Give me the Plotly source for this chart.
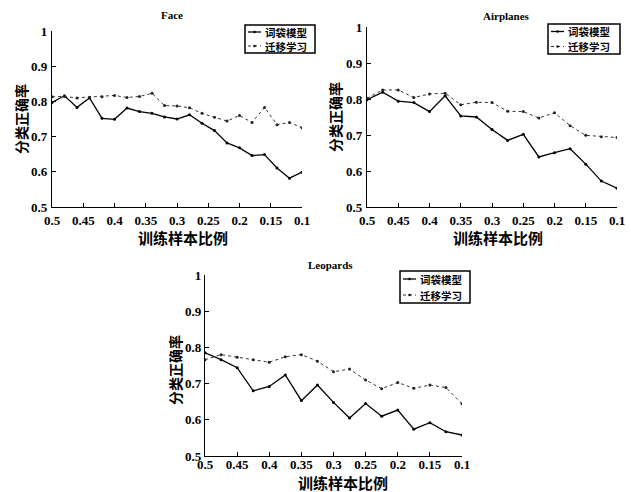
import plotly.graph_objects as go

# ---- data ----
face_x = [0.50, 0.48, 0.46, 0.44, 0.42, 0.40, 0.38, 0.36, 0.34, 0.32, 0.30,
          0.28, 0.26, 0.24, 0.22, 0.20, 0.18, 0.16, 0.14, 0.12, 0.10]
face_bow = [0.797, 0.816, 0.783, 0.810, 0.752, 0.749, 0.781, 0.771, 0.766, 0.756, 0.750,
            0.762, 0.738, 0.717, 0.682, 0.668, 0.646, 0.649, 0.611, 0.582, 0.599]
face_tl = [0.813, 0.814, 0.810, 0.812, 0.813, 0.817, 0.811, 0.814, 0.823, 0.788, 0.787,
           0.782, 0.766, 0.755, 0.744, 0.760, 0.740, 0.783, 0.734, 0.740, 0.725]

air_x = [0.5, 0.475, 0.45, 0.425, 0.4, 0.375, 0.35, 0.325, 0.3, 0.275, 0.25,
         0.225, 0.2, 0.175, 0.15, 0.125, 0.1]
air_bow = [0.798, 0.819, 0.794, 0.790, 0.765, 0.809, 0.753, 0.750, 0.715, 0.685, 0.702,
           0.639, 0.651, 0.662, 0.619, 0.572, 0.552]
air_tl = [0.802, 0.825, 0.825, 0.804, 0.814, 0.816, 0.784, 0.791, 0.790, 0.766, 0.765,
          0.747, 0.762, 0.726, 0.699, 0.695, 0.693]

leo_x = [0.5, 0.475, 0.45, 0.425, 0.4, 0.375, 0.35, 0.325, 0.3, 0.275, 0.25,
         0.225, 0.2, 0.175, 0.15, 0.125, 0.1]
leo_bow = [0.785, 0.766, 0.744, 0.680, 0.692, 0.724, 0.653, 0.696, 0.648, 0.605, 0.645,
           0.610, 0.627, 0.574, 0.592, 0.567, 0.558]
leo_tl = [0.766, 0.780, 0.773, 0.766, 0.759, 0.774, 0.780, 0.762, 0.733, 0.740, 0.710,
          0.686, 0.703, 0.687, 0.696, 0.689, 0.644]

x_ticks = [0.5, 0.45, 0.4, 0.35, 0.3, 0.25, 0.2, 0.15, 0.1]
x_ticktext = ["0.5", "0.45", "0.4", "0.35", "0.3", "0.25", "0.2", "0.15", "0.1"]
y_ticks = [0.5, 0.6, 0.7, 0.8, 0.9, 1.0]
y_ticktext = ["0.5", "0.6", "0.7", "0.8", "0.9", "1"]

titles = ["Face", "Airplanes", "Leopards"]
name_bow = "词袋模型"
name_tl = "迁移学习"
x_title = "训练样本比例"
y_title = "分类正确率"

W, H = 631, 492
SERIF = "Liberation Serif, DejaVu Serif, serif"
CJK = "Noto Sans CJK SC, sans-serif"

# panel geometry in pixels: (left, right, top, bottom)
panels = [
    (52, 302, 31, 207),
    (367, 617, 27, 207),
    (205, 462, 275, 456),
]
x_standoff = [1, 1, -4]
y_standoff = [1, 1, 0]
# legend boxes in pixels: (left, right, top, bottom)
legend_boxes = [(245, 315, 25, 53), (548, 620, 24, 54), (400, 470, 271, 303)]
title_pos = [(172, 15), (506, 16), (330, 265)]
xtitle_pos = [(183, 237), (498, 237), (343, 482)]
ytitle_pos = [(21, 119), (335, 117), (175, 370)]

datasets = [(face_x, face_bow, face_tl), (air_x, air_bow, air_tl), (leo_x, leo_bow, leo_tl)]


def px(x):
    return x / W


def py(y):
    return 1 - y / H


BOW_LINE = dict(color="black", width=1.3)
TL_LINE = dict(color="#333333", width=1, dash="dot")
TICKFONT = dict(family=SERIF, size=13, color="black", weight="bold")

fig = go.Figure()
annotations = []
shapes = []
for i, ((xs, bow, tl), (l, r, t, b)) in enumerate(zip(datasets, panels)):
    suffix = "" if i == 0 else str(i + 1)
    fig.add_trace(go.Scatter(
        x=xs, y=bow, name=name_bow, mode="lines+markers", line=BOW_LINE,
        marker=dict(symbol="circle", size=3, color="black"),
        xaxis="x" + suffix, yaxis="y" + suffix, showlegend=False))
    fig.add_trace(go.Scatter(
        x=xs, y=tl, name=name_tl, mode="lines+markers", line=TL_LINE,
        marker=dict(symbol="circle", size=3, color="#222222"),
        xaxis="x" + suffix, yaxis="y" + suffix, showlegend=False))
    ax = dict(
        domain=[px(l), px(r)], range=[0.5, 0.1], tickvals=x_ticks, ticktext=x_ticktext,
        showline=True, linecolor="black", linewidth=1.2, ticks="inside", ticklen=4,
        tickcolor="black", showgrid=False, zeroline=False, ticklabelstandoff=x_standoff[i],
        automargin=False, tickfont=TICKFONT, anchor="y" + suffix)
    ay = dict(
        domain=[py(b), py(t)], range=[0.5, 1.0], tickvals=y_ticks, ticktext=y_ticktext,
        showline=True, linecolor="black", linewidth=1.2, ticks="inside", ticklen=4,
        tickcolor="black", showgrid=False, zeroline=False, ticklabelstandoff=y_standoff[i],
        automargin=False, tickfont=TICKFONT, anchor="x" + suffix)
    fig.update_layout(**{"xaxis" + suffix: ax, "yaxis" + suffix: ay})

    # compact boxed legend (MATLAB style)
    bl, br, bt, bb = legend_boxes[i]
    shapes.append(dict(type="rect", xref="paper", yref="paper",
                       x0=px(bl), x1=px(br), y0=py(bb), y1=py(bt),
                       line=dict(color="black", width=1.5), fillcolor="white", layer="above"))
    row_h = (bb - bt) / 2.0
    for k, (nm, ln) in enumerate([(name_bow, BOW_LINE), (name_tl, TL_LINE)]):
        yc = bt + row_h * (k + 0.5)
        shapes.append(dict(type="line", xref="paper", yref="paper",
                           x0=px(bl + 3), x1=px(bl + 16), y0=py(yc), y1=py(yc),
                           line=ln, layer="above"))
        shapes.append(dict(type="circle", xref="paper", yref="paper",
                           x0=px(bl + 8.5), x1=px(bl + 10.5), y0=py(yc + 1), y1=py(yc - 1),
                           line=dict(color="black", width=0.5), fillcolor="black", layer="above"))
        annotations.append(dict(text="<b>" + nm + "</b>", x=px(bl + 18), y=py(yc),
                                xref="paper", yref="paper", xanchor="left", yanchor="middle",
                                showarrow=False,
                                font=dict(family=CJK, size=10.5, color="black")))

    tx, ty = title_pos[i]
    annotations.append(dict(text="<b>" + titles[i] + "</b>", x=px(tx), y=py(ty),
                            xref="paper", yref="paper", showarrow=False,
                            xanchor="center", yanchor="middle",
                            font=dict(family=SERIF, size=11, color="black")))
    xx, xy = xtitle_pos[i]
    annotations.append(dict(text="<b>" + x_title + "</b>", x=px(xx), y=py(xy),
                            xref="paper", yref="paper", showarrow=False,
                            xanchor="center", yanchor="middle",
                            font=dict(family=CJK, size=15, color="black")))
    yx, yy = ytitle_pos[i]
    annotations.append(dict(text="<b>" + y_title + "</b>", x=px(yx), y=py(yy),
                            xref="paper", yref="paper", showarrow=False, textangle=-90,
                            xanchor="center", yanchor="middle",
                            font=dict(family=CJK, size=14, color="black")))

fig.update_layout(
    width=W, height=H, margin=dict(l=0, r=0, t=0, b=0),
    paper_bgcolor="white", plot_bgcolor="white",
    annotations=annotations, shapes=shapes, showlegend=False)

fig.write_html("out.html", config={"displayModeBar": False},
               post_script="document.body.style.margin='0';document.body.style.padding='0';")
